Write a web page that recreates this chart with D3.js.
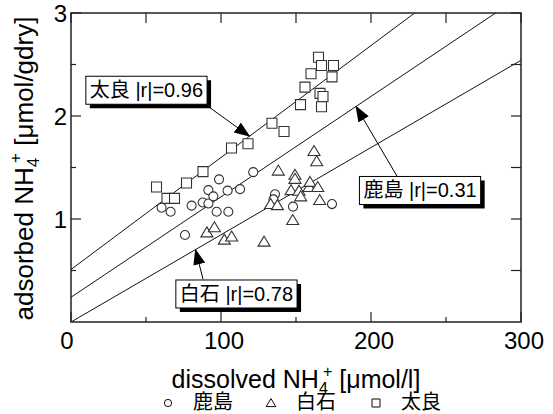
<!DOCTYPE html>
<html><head><meta charset="utf-8">
<script src="https://cdn.jsdelivr.net/npm/d3@7"></script>
<style>
html,body{margin:0;padding:0;background:#fff;}
svg{display:block;font-family:"Liberation Sans","Noto Sans CJK JP",Arial,sans-serif;}
</style></head><body>
<svg id="chart" width="553" height="414"></svg>
<script>
// Sites, marker shapes and correlation coefficients
const siteNames = ["鹿島", "白石", "太良"];
const siteShapes = ["circle", "triangle", "square"];
const rValues = ["0.31", "0.78", "0.96"];

// 鹿島 (circles)
const kashimaX = [60.4, 66.4, 80.4, 87.8, 91.6, 97.1, 104.9, 98.7, 91.6, 94.9, 104.4, 112.7, 121.5, 76, 136, 135, 148, 174];
const kashimaY = [1.11, 1.07, 1.13, 1.16, 1.15, 1.07, 1.07, 1.385, 1.28, 1.22, 1.275, 1.29, 1.455, 0.845, 1.24, 1.19, 1.12, 1.145];
// 白石 (triangles)
const shiroishiX = [90.6, 95.6, 102.2, 107.1, 128.7, 133.1, 137.6, 138.2, 146.7, 147.8, 149.3, 149.3, 152, 153.1, 158.7, 159.3, 164.5, 165.8, 162, 163.8];
const shiroishiY = [0.87, 0.92, 0.80, 0.83, 0.78, 1.145, 1.135, 1.47, 1.28, 0.99, 1.43, 1.39, 1.275, 1.22, 1.31, 1.36, 1.31, 1.185, 1.66, 1.56];
// 太良 (squares)
const taraX = [57, 64, 69, 77, 88, 107, 118, 134, 142, 153, 156, 160, 165, 167, 166, 168, 167, 174, 175];
const taraY = [1.31, 1.20, 1.20, 1.35, 1.46, 1.69, 1.73, 1.93, 1.85, 2.11, 2.28, 2.41, 2.57, 2.49, 2.22, 2.19, 2.09, 2.38, 2.49];

// Regression lines y = a + b x, per site
const fitIntercept = [0.24, 0.0, 0.51];
const fitSlope = [0.00975, 0.00847, 0.01087];

// Callout placement (data units): box centre, arrow tail, arrow tip x on the fit line
const noteBoxX = [232.7, 110.3, 50.3];
const noteBoxY = [1.277, 0.272, 2.25];
const noteTailX = [217.3, 88, 92];
const noteTailY = [1.417, 0.417, 2.087];
const noteTipX = [190, 83, 119];

// Axis ticks
const xMajor = [0, 100, 200, 300];
const xMinor = [50, 150, 250];
const yMajor = [1, 2, 3];
const yMinor = [0.5, 1.5, 2.5];

const svg = d3.select("#chart");
const x = d3.scaleLinear().domain([0, 300]).range([71, 521]);
const y = d3.scaleLinear().domain([0, 3]).range([322, 13]);

const dataBySite = [
  d3.zip(kashimaX, kashimaY),
  d3.zip(shiroishiX, shiroishiY),
  d3.zip(taraX, taraY)
];

svg.append("defs").append("clipPath").attr("id", "plotClip")
  .append("rect").attr("x", x(0)).attr("y", y(3))
  .attr("width", x(300) - x(0)).attr("height", y(0) - y(3));

svg.select("defs").append("marker")
  .attr("id", "arrowHead").attr("markerUnits", "userSpaceOnUse")
  .attr("markerWidth", 16).attr("markerHeight", 12)
  .attr("viewBox", "0 0 16 12").attr("refX", 15).attr("refY", 6)
  .attr("orient", "auto")
  .append("path").attr("d", "M0,0 L16,6 L0,12 Z").attr("fill", "#000");

// Fit lines
const plot = svg.append("g").attr("clip-path", "url(#plotClip)");
plot.selectAll("line.fit").data(fitIntercept).join("line")
  .attr("class", "fit")
  .attr("x1", x(0)).attr("y1", (a) => y(a))
  .attr("x2", x(300)).attr("y2", (a, i) => y(a + fitSlope[i] * 300))
  .attr("stroke", "#111").attr("stroke-width", 1);

// Markers
const symbolPath = (shape) => {
  if (shape === "circle") return d3.symbol(d3.symbolCircle, 64)();
  if (shape === "triangle") return "M0,-5.5 L6,4.5 L-6,4.5 Z";
  return "M-5,-5 H5 V5 H-5 Z";
};
dataBySite.forEach((pts, i) => {
  plot.append("g").selectAll("path").data(pts).join("path")
    .attr("transform", (d) => `translate(${x(d[0])},${y(d[1])})`)
    .attr("d", symbolPath(siteShapes[i]))
    .attr("fill", "#fff").attr("stroke", "#333").attr("stroke-width", 1.1);
});

// Frame and ticks
const axisColor = "#222";
svg.append("rect").attr("x", x(0)).attr("y", y(3))
  .attr("width", x(300) - x(0)).attr("height", y(0) - y(3))
  .attr("fill", "none").attr("stroke", axisColor).attr("stroke-width", 1.5);

const ticks = svg.append("g").attr("stroke", axisColor).attr("stroke-width", 1.2);
xMajor.forEach((v) => ticks.append("line").attr("x1", x(v)).attr("x2", x(v)).attr("y1", y(0)).attr("y2", y(0) - 10));
xMinor.forEach((v) => ticks.append("line").attr("x1", x(v)).attr("x2", x(v)).attr("y1", y(0)).attr("y2", y(0) - 5));
xMajor.concat(xMinor).forEach((v) => ticks.append("line").attr("x1", x(v)).attr("x2", x(v)).attr("y1", y(3)).attr("y2", y(3) + 10));
yMajor.forEach((v) => ticks.append("line").attr("y1", y(v)).attr("y2", y(v)).attr("x1", x(0)).attr("x2", x(0) + 10));
yMinor.forEach((v) => ticks.append("line").attr("y1", y(v)).attr("y2", y(v)).attr("x1", x(0)).attr("x2", x(0) + 5));
yMajor.concat(yMinor).forEach((v) => ticks.append("line").attr("y1", y(v)).attr("y2", y(v)).attr("x1", x(300)).attr("x2", x(300) - 10));

// Tick labels
svg.append("g").selectAll("text").data(xMajor).join("text")
  .attr("x", (d) => x(d) + (d === 0 ? -4 : 3)).attr("y", y(0) + 27)
  .attr("text-anchor", "middle").attr("font-size", 24).attr("fill", "#000")
  .text((d) => d);
svg.append("g").selectAll("text").data(yMajor).join("text")
  .attr("x", x(0) - 4).attr("y", (d) => y(d) + 9)
  .attr("text-anchor", "end").attr("font-size", 24).attr("fill", "#000")
  .text((d) => d);

// Axis titles with NH4+ (subscript 4, superscript + set just above and right of it)
function ionTitle(sel, before, after, fs) {
  const small = Math.round(fs * 0.64);
  sel.append("tspan").text(before + "NH");
  sel.append("tspan").attr("font-size", small).attr("dy", fs * 0.22).text("4");
  sel.append("tspan").attr("font-size", small).attr("dx", -small * 0.3).attr("dy", -fs * 0.68).text("+");
  sel.append("tspan").attr("dy", fs * 0.46).text(after);
}
const xTitle = svg.append("text")
  .attr("x", (x(0) + x(300)) / 2).attr("y", 388)
  .attr("text-anchor", "middle").attr("font-size", 25).attr("fill", "#000");
ionTitle(xTitle, "dissolved ", " [μmol/l]", 25);

const yTitle = svg.append("text")
  .attr("transform", `translate(33,${(y(0) + y(3)) / 2 + 1}) rotate(-90)`)
  .attr("text-anchor", "middle").attr("font-size", 26).attr("fill", "#000");
ionTitle(yTitle, "adsorbed ", " [μmol/gdry]", 26);

// Callouts: white box with drop shadow and arrow pointing to each fit line
const notes = svg.append("g");
siteNames.forEach((name, i) => {
  const g = notes.append("g");
  const cx = x(noteBoxX[i]), cy = y(noteBoxY[i]);
  const t = g.append("text").attr("font-size", 20).attr("fill", "#000")
    .attr("text-anchor", "middle").attr("x", cx).attr("y", cy + 7)
    .text(`${name} |r|=${rValues[i]}`);
  const w = t.node().getComputedTextLength() + 8, h = 28;
  g.insert("rect", "text").attr("x", cx - w / 2 + 4).attr("y", cy - h / 2 + 4)
    .attr("width", w).attr("height", h).attr("fill", "#000");
  g.insert("rect", "text").attr("x", cx - w / 2).attr("y", cy - h / 2)
    .attr("width", w).attr("height", h).attr("fill", "#fff")
    .attr("stroke", "#000").attr("stroke-width", 1);
  const tipY = fitIntercept[i] + fitSlope[i] * noteTipX[i];
  notes.append("line")
    .attr("x1", x(noteTailX[i])).attr("y1", y(noteTailY[i]))
    .attr("x2", x(noteTipX[i])).attr("y2", y(tipY))
    .attr("stroke", "#000").attr("stroke-width", 1)
    .attr("marker-end", "url(#arrowHead)");
});

// Legend
const legend = svg.append("g");
const legendX = [168, 271, 376];
siteNames.forEach((name, i) => {
  legend.append("path")
    .attr("transform", `translate(${legendX[i]},403) scale(0.8)`)
    .attr("d", symbolPath(siteShapes[i]))
    .attr("fill", "#fff").attr("stroke", "#000").attr("stroke-width", 1.2);
  legend.append("text").attr("x", legendX[i] + 25).attr("y", 409)
    .attr("font-size", 20).attr("fill", "#000").text(name);
});
</script>
</body></html>
